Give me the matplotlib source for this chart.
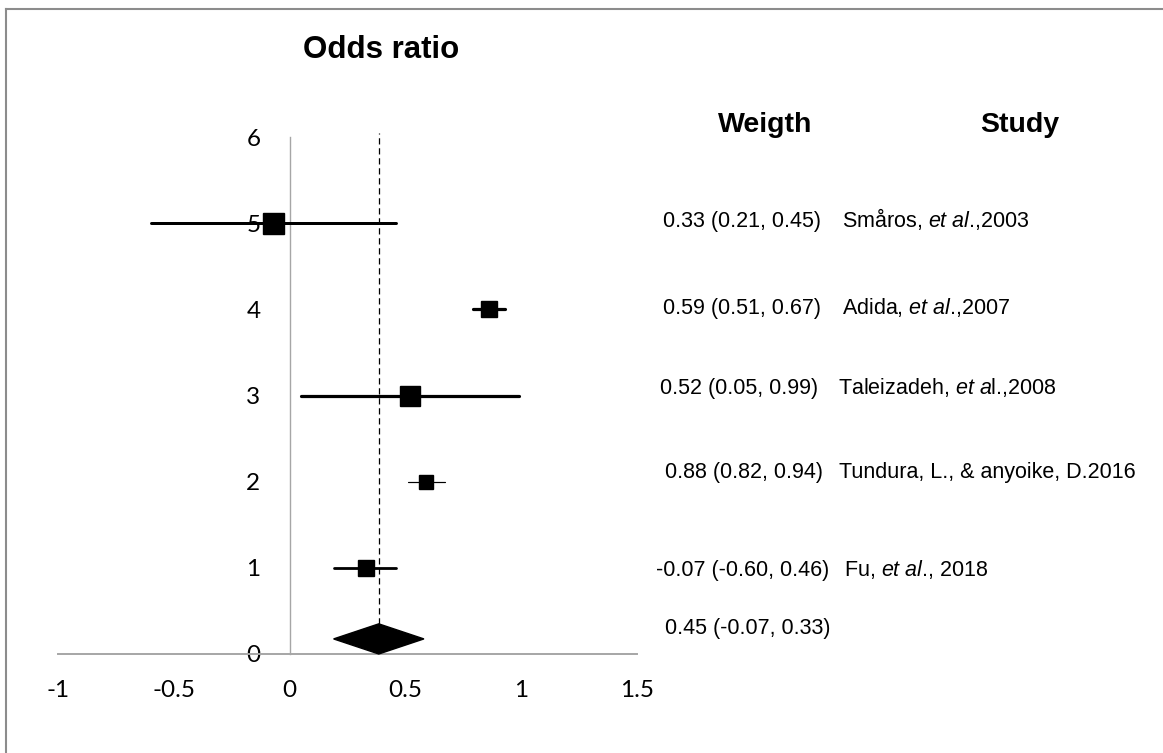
import matplotlib.pyplot as plt
from matplotlib.lines import Line2D

plt.rcParams['font.family'] = ['Liberation Sans', 'DejaVu Sans']
plt.rcParams['mathtext.fontset'] = 'custom'
plt.rcParams['mathtext.rm'] = 'Liberation Sans'
plt.rcParams['mathtext.it'] = 'Liberation Sans:italic'

# forest plot data, top row first
rows = [5, 4, 3, 2, 1]
estimate = [-0.07, 0.86, 0.52, 0.59, 0.33]
ci_low = [-0.60, 0.79, 0.05, 0.51, 0.19]
ci_high = [0.46, 0.93, 0.99, 0.67, 0.46]

pooled_est = 0.385
pooled_low = 0.19
pooled_high = 0.58

weights = ["0.33 (0.21, 0.45)", "0.59 (0.51, 0.67)", "0.52 (0.05, 0.99)",
           "0.88 (0.82, 0.94)", "-0.07 (-0.60, 0.46)", "0.45 (-0.07, 0.33)"]
studies = ["Småros, $\\mathit{et\\ al}$.,2003",
           "Adida, $\\mathit{et\\ al}$.,2007",
           "Taleizadeh, $\\mathit{et\\ a}$l.,2008",
           "Tundura, L., & anyoike, D.2016",
           "Fu, $\\mathit{et\\ al}$., 2018"]

xticks = [-1, -0.5, 0, 0.5, 1, 1.5]
xtick_labels = ["-1", "-0.5", "0", "0.5", "1", "1.5"]
yticks = [0, 1, 2, 3, 4, 5, 6]

# marker size / line width per row
marker_px = [21, 16.5, 20.5, 14, 16.5]
bar_px = [3, 3.2, 3.2, 1.2, 2.8]

W, H = 1163, 753
fig = plt.figure(figsize=(W / 100, H / 100), dpi=100)
ax = fig.add_axes([58 / W, 1 - 654 / H, 579 / W, 517 / H])
ax.set_xlim(-1, 1.5)
ax.set_ylim(0, 6)

for s in ['top', 'right']:
    ax.spines[s].set_visible(False)
ax.spines['left'].set_position(('data', 0))
ax.spines['left'].set_color('#a6a6a6')
ax.spines['left'].set_linewidth(1.0)
ax.spines['bottom'].set_color('#a6a6a6')
ax.spines['bottom'].set_linewidth(1.4)

ax.set_xticks(xticks)
ax.set_xticklabels(xtick_labels)
ax.set_yticks(yticks)
ax.tick_params(length=0, labelsize=17.5, labelfontfamily='Lato')
ax.tick_params(axis='y', pad=21)
ax.tick_params(axis='x', pad=19)

for i, y in enumerate(rows):
    ax.plot([ci_low[i], ci_high[i]], [y, y], color='black',
            lw=bar_px[i] * 0.72, solid_capstyle='round', zorder=3)
    ax.plot(estimate[i], y, marker='s', ms=marker_px[i] * 0.72,
            color='black', zorder=4, clip_on=False)

# pooled diamond + dashed line
dh = 0.175
ax.fill([pooled_low, pooled_est, pooled_high, pooled_est],
        [dh, 2 * dh, dh, 0], color='black', zorder=4, clip_on=False)
ax.plot([pooled_est, pooled_est], [2 * dh, 6.05], color='black', lw=0.9,
        ls=(0, (5, 3)), zorder=2, clip_on=False)

# chart area border (only top and left visible)
fig.add_artist(Line2D([6 / W, 1], [1 - 9 / H, 1 - 9 / H], color='#8c8c8c', lw=1.5))
fig.add_artist(Line2D([6 / W, 6 / W], [0, 1 - 9 / H], color='#8c8c8c', lw=1.5))

fig.text(381 / W, 1 - 58 / H, "Odds ratio", ha='center', va='baseline',
         fontsize=22.5, fontweight='bold')
fig.text(718 / W, 1 - 132 / H, "Weigth", ha='left', va='baseline',
         fontsize=20.5, fontweight='bold')
fig.text(980 / W, 1 - 132 / H, "Study", ha='left', va='baseline',
         fontsize=20.5, fontweight='bold')

weight_x = [663, 663, 660, 665, 656, 665]
study_x = [842, 842, 838, 839, 844]
base_y = [227, 314, 394, 478, 576, 634]

for i, txt in enumerate(weights):
    fig.text(weight_x[i] / W, 1 - base_y[i] / H, txt, ha='left',
             va='baseline', fontsize=15.5)
for i, txt in enumerate(studies):
    fig.text(study_x[i] / W, 1 - base_y[i] / H, txt, ha='left',
             va='baseline', fontsize=15.5)

fig.savefig("out.png", dpi=100, facecolor='white')
